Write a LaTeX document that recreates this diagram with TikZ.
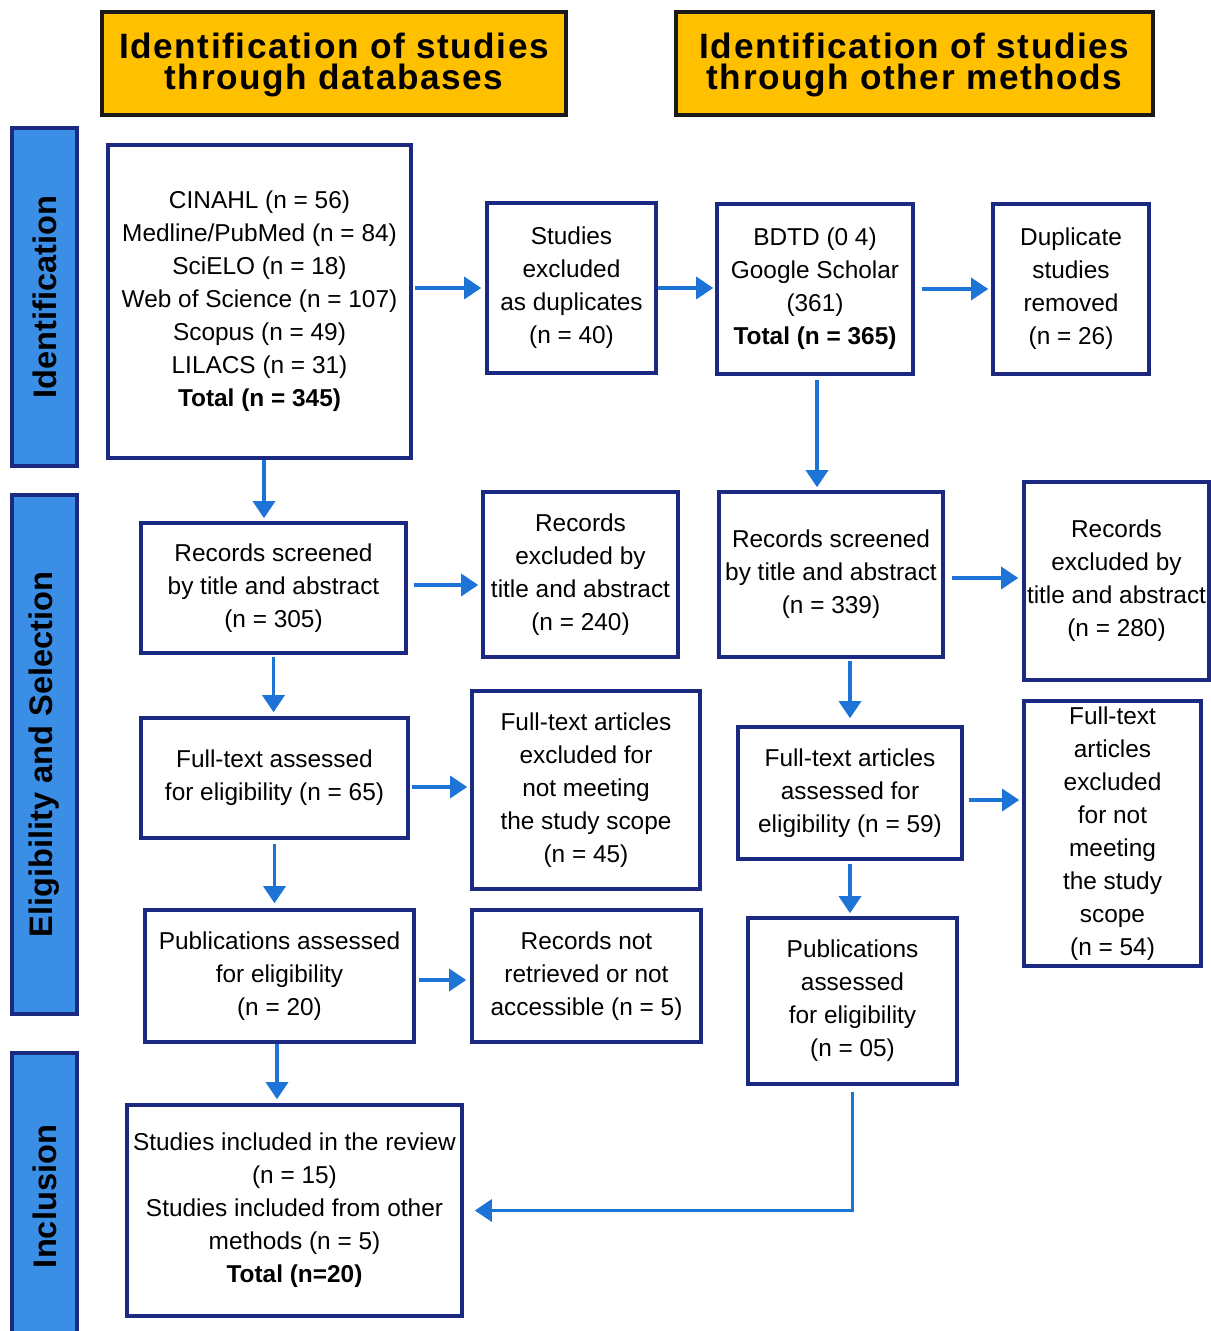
\documentclass[tikz,border=0pt]{standalone}
\usepackage{fontspec}
\setmainfont{Liberation Sans}
\usetikzlibrary{arrows.meta}
\definecolor{navy}{HTML}{1B2A80}
\definecolor{barblue}{HTML}{3A8EE6}
\definecolor{arrblue}{HTML}{1E73D6}
\definecolor{gold}{HTML}{FFC000}
\begin{document}
\begin{tikzpicture}[x=0.5pt,y=-0.5pt,
  box/.style={draw=navy, line width=1.8pt, fill=white, align=center, inner sep=0pt,
    font=\fontsize{12.2}{16.5}\selectfont},
  hdr/.style={draw=black!90, line width=1.6pt, fill=gold, inner sep=0pt},
  hdrtext/.style={align=center, inner sep=0pt,
    font=\bfseries\fontsize{17.6}{15.5}\selectfont\addfontfeature{LetterSpace=4.5}},
  side/.style={draw=navy, line width=1.8pt, fill=barblue, rotate=90, inner sep=0pt,
    minimum height=32.5pt, font=\bfseries\fontsize{16.3}{18}\selectfont},
  arr/.style={draw=arrblue, line width=1.65pt, -{Triangle[length=8.5pt,width=11pt]}}
]
\useasboundingbox (0,0) rectangle (1210,1331);
% headers
\node[hdr, minimum width=232pt, minimum height=51.5pt] (h1) at (334,63.5) {};
\node[hdrtext] (h1t) at (334,65) {Identification of studies\\through databases};
\node[hdr, minimum width=238.5pt, minimum height=51.5pt] (h2) at (914.5,63.5) {};
\node[hdrtext] (h2t) at (914.5,65) {Identification of studies\\through other methods};
% side bars
\node[side, minimum width=169pt] (s1) at (44.5,297) {Identification};
\node[side, minimum width=259.5pt] (s2) at (44.5,754.5) {Eligibility and Selection};
\node[side, minimum width=143.5pt] (s3) at (44.5,1196.5) {Inclusion};
% boxes
\node[box, minimum width=151.5pt, minimum height=156.5pt] (A) at (259.5,301.5)
  {CINAHL (n = 56)\\Medline/PubMed (n = 84)\\SciELO (n = 18)\\Web of Science (n = 107)\\Scopus (n = 49)\\LILACS (n = 31)\\\textbf{Total (n = 345)}};
\node[box, minimum width=84.5pt, minimum height=85pt] (B) at (571.5,288)
  {Studies\\excluded\\as duplicates\\(n = 40)};
\node[box, minimum width=98pt, minimum height=85pt] (C) at (815,289)
  {BDTD (0 4)\\Google Scholar\\(361)\\\textbf{Total (n = 365)}};
\node[box, minimum width=78pt, minimum height=85pt] (D) at (1071,289)
  {Duplicate\\studies\\removed\\(n = 26)};
\node[box, minimum width=132.5pt, minimum height=65pt] (E) at (273.5,588)
  {Records screened\\by title and abstract\\(n = 305)};
\node[box, minimum width=97.5pt, minimum height=82.5pt] (F) at (580.5,574.5)
  {Records\\excluded by\\title and abstract\\(n = 240)};
\node[box, minimum width=112pt, minimum height=82.5pt] (G) at (831,574.5)
  {Records screened\\by title and abstract\\(n = 339)};
\node[box, minimum width=92.5pt, minimum height=99pt] (H) at (1116.5,581)
  {Records\\excluded by\\title and abstract\\(n = 280)};
\node[box, minimum width=133.5pt, minimum height=60pt] (I) at (274.5,778)
  {Full-text assessed\\for eligibility (n = 65)};
\node[box, minimum width=114pt, minimum height=99pt] (J) at (586,790)
  {Full-text articles\\excluded for\\not meeting\\the study scope\\(n = 45)};
\node[box, minimum width=112pt, minimum height=66pt] (K) at (850,793)
  {Full-text articles\\assessed for\\eligibility (n = 59)};
\node[box, minimum width=88.5pt, minimum height=132.5pt] (L) at (1112.5,833.5)
  {Full-text\\articles\\excluded\\for not\\meeting\\the study\\scope\\(n = 54)};
\node[box, minimum width=134.5pt, minimum height=66pt] (M) at (279.5,976)
  {Publications assessed\\for eligibility\\(n = 20)};
\node[box, minimum width=114.5pt, minimum height=66pt] (N) at (586.5,976)
  {Records not\\retrieved or not\\accessible (n = 5)};
\node[box, minimum width=104.5pt, minimum height=83pt] (O) at (852.5,1001)
  {Publications\\assessed\\for eligibility\\(n = 05)};
\node[box, minimum width=167.5pt, minimum height=105.5pt] (P) at (294.5,1210.5)
  {Studies included in the review\\(n = 15)\\Studies included from other\\methods (n = 5)\\\textbf{Total (n=20)}};
% arrows
\draw[arr, shorten <=1pt, shorten >=2pt] (A.east |- B.west) -- (B.west);
\draw[arr, shorten >=1pt] (B.east) -- (C.west |- B.east);
\draw[arr, shorten <=3.5pt, shorten >=1.5pt] (C.east) -- (D.west);
\draw[arr, shorten >=1.5pt] ([xshift=2.25pt]A.south) -- ([xshift=2.25pt]A.south |- E.north);
\draw[arr, shorten <=2pt, shorten >=1.5pt] ([xshift=1pt]C.south) -- ([xshift=1pt]C.south |- G.north);
\draw[arr, shorten <=3pt, shorten >=1.5pt] ([yshift=1.5pt]E.east) -- ([yshift=1.5pt]E.east -| F.west);
\draw[arr, shorten <=3.5pt, shorten >=2pt] ([yshift=-1.75pt]G.east) -- ([yshift=-1.75pt]G.east -| H.west);
\draw[arr, shorten <=1pt, shorten >=2pt] (E.south) -- (E.south |- I.north);
\draw[arr, shorten <=1pt, shorten >=1.5pt] ([yshift=-4.5pt]I.east) -- ([yshift=-4.5pt]I.east -| J.west);
\draw[arr, shorten <=1pt, shorten >=3.5pt] (K.north |- G.south) -- (K.north);
\draw[arr, shorten <=2.5pt, shorten >=1.5pt] ([yshift=-3.5pt]K.east) -- ([yshift=-3.5pt]K.east -| L.west);
\draw[arr, shorten <=2pt, shorten >=2.5pt] (I.south) -- (I.south |- M.north);
\draw[arr, shorten <=1.5pt, shorten >=2pt] ([yshift=-2pt]M.east) -- ([yshift=-2pt]M.east -| N.west);
\draw[arr, shorten <=1.5pt, shorten >=1.5pt] (K.south) -- (K.south |- O.north);
\draw[arr, shorten <=0pt, shorten >=2pt] ([xshift=-1.25pt]M.south) -- ([xshift=-1.25pt]M.south |- P.north);
\draw[arr, shorten <=3pt, shorten >=5.5pt] (O.south) |- (P.east);
\end{tikzpicture}
\end{document}
